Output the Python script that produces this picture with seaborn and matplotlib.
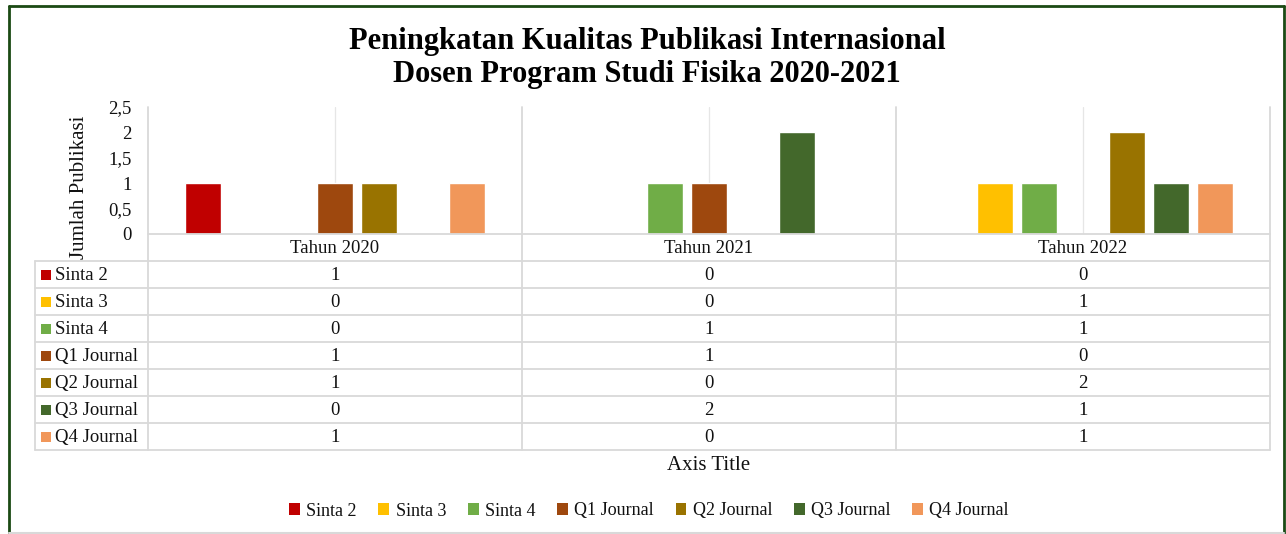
import matplotlib
matplotlib.use("Agg")
import matplotlib.pyplot as plt
import matplotlib.transforms as mtransforms
from matplotlib.lines import Line2D
from matplotlib.patches import Patch, Rectangle
import seaborn as sns
import pandas as pd

# ---- data ----
years = ["Tahun 2020", "Tahun 2021", "Tahun 2022"]
series = ["Sinta 2", "Sinta 3", "Sinta 4", "Q1 Journal", "Q2 Journal", "Q3 Journal", "Q4 Journal"]
sinta2 = [1, 0, 0]
sinta3 = [0, 0, 1]
sinta4 = [0, 1, 1]
q1 = [1, 1, 0]
q2 = [1, 0, 2]
q3 = [0, 2, 1]
q4 = [1, 0, 1]
colors = ["#C00000", "#FFC000", "#70AD47", "#9E480E", "#997300", "#43682B", "#F1975A"]
yticks = [0, 0.5, 1, 1.5, 2, 2.5]
ytick_labels = ["0", "0,5", "1", "1,5", "2", "2,5"]
title = "Peningkatan Kualitas Publikasi Internasional\nDosen Program Studi Fisika 2020-2021"
ylabel = "Jumlah Publikasi"
xlabel = "Axis Title"

values = [sinta2, sinta3, sinta4, q1, q2, q3, q4]
rows = []
for s, vals in zip(series, values):
    for y, v in zip(years, vals):
        rows.append({"year": y, "type": s, "value": v})
df = pd.DataFrame(rows)

sns.set_theme(style="white")
FONT = ["Liberation Serif", "DejaVu Serif"]
plt.rcParams["font.family"] = FONT
plt.rcParams["text.color"] = "#111111"
plt.rcParams["ytick.color"] = "#111111"
plt.rcParams["ytick.labelcolor"] = "#111111"

W, H = 1286, 534
fig = plt.figure(figsize=(W / 100, H / 100), dpi=100)
fig.patch.set_facecolor("white")

def fx(px):
    return px / W

def fy(py):
    return 1 - py / H

FS = 13.5
L, R, T, B = 148, 1270, 107, 234
ax = fig.add_axes([fx(L), fy(B), fx(R - L), (B - T) / H])
sns.barplot(data=df, x="year", y="value", hue="type", order=years, hue_order=series,
            palette=colors, width=0.824, gap=0.2, ax=ax, legend=False,
            saturation=1, errorbar=None)
ax.set_xlim(-0.5, len(years) - 0.5)
ax.set_ylim(0, 2.5)
ax.set_yticks(yticks)
ax.set_yticklabels(ytick_labels, fontsize=FS)
ax.tick_params(axis="y", length=0, pad=12)
ax.set_xticks([])
ax.set_xlabel("")
ax.set_ylabel("")
for sp in ax.spines.values():
    sp.set_visible(False)
ax.set_facecolor("none")

grid_c = "#e6e6e6"
tbl_c = "#d9d9d9"
for i in range(len(years)):
    ax.axvline(i, color=grid_c, lw=0.9, zorder=0)

# blended transform: x in data coords, y in figure fraction
trans = mtransforms.blended_transform_factory(ax.transData, fig.transFigure)

row_h = 27
header_top = B
header_bot = B + row_h
n = len(series)
table_bot = header_bot + n * row_h
label_left = 35

# vertical boundary lines (category edges)
for e in [x - 0.5 for x in range(len(years) + 1)]:
    fig.add_artist(Line2D([e, e], [fy(T), fy(table_bot)], transform=trans, color=tbl_c, lw=1.3))
# header top line
fig.add_artist(Line2D([-0.5, len(years) - 0.5], [fy(header_top)] * 2, transform=trans, color=tbl_c, lw=1.3))
# row lines
for k in range(n + 1):
    yy = fy(header_bot + k * row_h)
    fig.add_artist(Line2D([fx(label_left), fx(R)], [yy, yy], transform=fig.transFigure, color=tbl_c, lw=1.3))
fig.add_artist(Line2D([fx(label_left)] * 2, [fy(header_bot), fy(table_bot)], transform=fig.transFigure, color=tbl_c, lw=1.3))

# header labels
for i, y in enumerate(years):
    fig.text(i, fy(header_top + row_h / 2 + 1), y, transform=trans, ha="center", va="center", fontsize=FS)
# values
for k, (s, vals, c) in enumerate(zip(series, values, colors)):
    yc = fy(header_bot + k * row_h + row_h / 2 + 1)
    for i, v in enumerate(vals):
        fig.text(i, yc, str(v), transform=trans, ha="center", va="center", fontsize=FS)
    fig.add_artist(Rectangle((fx(41), yc - 4.5 / H), 10 / W, 10 / H, transform=fig.transFigure,
                             facecolor=c, edgecolor="none"))
    fig.text(fx(55), yc, s, ha="left", va="center", fontsize=FS)

# title
fig.text(fx(647), fy(58), title, ha="center", va="center", fontsize=22, fontweight="bold",
         linespacing=1.15, color="black")
# y label
fig.text(fx(79), fy(187), ylabel, ha="center", va="center", rotation=90, fontsize=15)
# axis title
fig.text(1, fy(465), xlabel, transform=trans, ha="center", va="center", fontsize=15)

# legend
handles = [Patch(facecolor=c, edgecolor="none", label=s) for s, c in zip(series, colors)]
fig.legend(handles=handles, loc="center", bbox_to_anchor=(fx(649), fy(511)), ncol=n,
           frameon=False, fontsize=13, handlelength=0.6, handleheight=0.6,
           handletextpad=0.35, columnspacing=1.2)

# outer border
dg = "#1b4a14"
fig.add_artist(Line2D([fx(9), fx(9)], [fy(6), fy(533)], transform=fig.transFigure, color=dg, lw=2))
fig.add_artist(Line2D([fx(9), fx(1284)], [fy(6), fy(6)], transform=fig.transFigure, color=dg, lw=2))
fig.add_artist(Line2D([fx(1284), fx(1284)], [fy(6), fy(533)], transform=fig.transFigure, color=dg, lw=2))
fig.add_artist(Line2D([fx(9), fx(1284)], [fy(533), fy(533)], transform=fig.transFigure, color="#d9d9d9", lw=1.5))

fig.savefig("out.png", dpi=100, facecolor="white")
